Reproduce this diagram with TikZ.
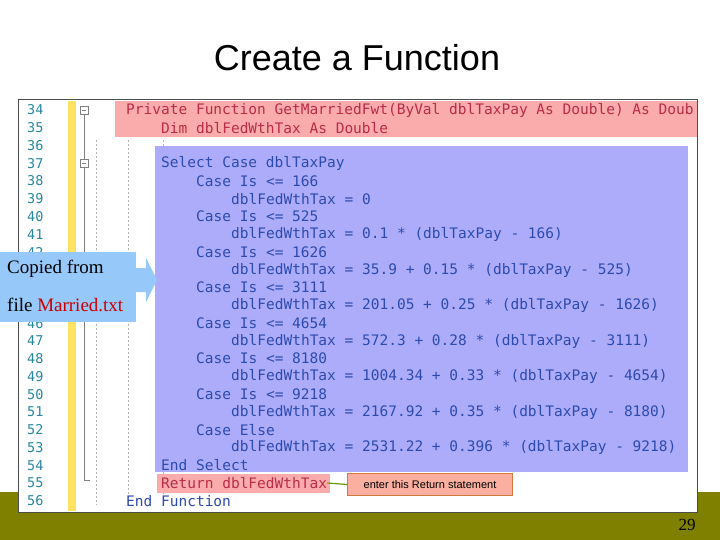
\documentclass[tikz,border=0pt]{standalone}
\usepackage{fontspec}
\setmainfont{Liberation Serif}
\newfontfamily\titlefont{Liberation Sans}
\newfontfamily\codefont{DejaVu Sans Mono}
\definecolor{olive}{RGB}{128,128,0}
\definecolor{kw}{RGB}{45,75,175}
\definecolor{lnum}{RGB}{40,135,160}
\definecolor{redtxt}{RGB}{185,45,70}
\definecolor{redbg}{RGB}{250,172,172}
\definecolor{bluebg}{RGB}{172,172,250}
\definecolor{callblue}{RGB}{150,200,250}
\definecolor{salmon}{RGB}{250,175,160}
\definecolor{orangeb}{RGB}{210,120,60}
\tikzset{
  code/.style={anchor=west,inner sep=0pt,font=\codefont\fontsize{14.5}{14}\selectfont,text=kw},
  num/.style={anchor=west,inner sep=0pt,font=\codefont\fontsize{13.5}{14}\selectfont,text=lnum},
}
\begin{document}
\begin{tikzpicture}[x=1pt,y=-1pt]
\useasboundingbox (0,0) rectangle (720,540);
\fill[olive] (0,492) rectangle (720,540);
\node[font=\titlefont\fontsize{36}{40}\selectfont] (title) at (357,58) {Create a Function};
\node[font=\fontsize{17}{20}\selectfont] (pg) at (687,525) {29};
\draw[fill=white,draw=black!70,line width=1pt] (18,100) rectangle (697,512);
% gutter
\fill[yellow!70!orange!60] (68,101) rectangle (76,511);
\draw[gray] (84,112) -- (84,480) -- (90,480);
\foreach \yy in {110,163}{\draw[gray,fill=white] (80,\yy-4) rectangle (88,\yy+4); \draw[gray] (82,\yy) -- (86,\yy);}
\foreach \xx in {96,128,163}{\draw[gray!60,dash pattern=on 2pt off 2pt] (\xx,140) -- (\xx,505);}
% backgrounds
\fill[redbg] (115,101) rectangle (697,137);
\fill[bluebg] (155,146) rectangle (688,472);
\fill[redbg] (157,474) rectangle (330,493);
% line numbers
\foreach \n [count=\i from 0] in {34,...,42,46,47,48,49,50,51,52,53,54,55,56}{
  \pgfmathsetmacro\yy{110+17.77*(\n-34)}
  \node[num] (n\n) at (27,\yy) {\n};
}
\begin{scope}
\clip (18,100) rectangle (697,512);
\node[code,text=redtxt] (c34) at (126,110) {Private Function GetMarriedFwt(ByVal dblTaxPay As Double) As Doub};
\end{scope}
\node[code,text=redtxt] (c35) at (161,128) {Dim dblFedWthTax As Double};
\node[code] (c37) at (161,163) {Select Case dblTaxPay};
\node[code] (c38) at (196,181) {Case Is <= 166};
\node[code] (c39) at (231,199) {dblFedWthTax = 0};
\node[code] (c40) at (196,216) {Case Is <= 525};
\node[code] (c41) at (231,234) {dblFedWthTax = 0.1 * (dblTaxPay - 166)};
\node[code] (c42) at (196,252) {Case Is <= 1626};
\node[code] (c43) at (231,270) {dblFedWthTax = 35.9 + 0.15 * (dblTaxPay - 525)};
\node[code] (c44) at (196,287) {Case Is <= 3111};
\node[code] (c45) at (231,305) {dblFedWthTax = 201.05 + 0.25 * (dblTaxPay - 1626)};
\node[code] (c46) at (196,323) {Case Is <= 4654};
\node[code] (c47) at (231,341) {dblFedWthTax = 572.3 + 0.28 * (dblTaxPay - 3111)};
\node[code] (c48) at (196,358) {Case Is <= 8180};
\node[code] (c49) at (231,376) {dblFedWthTax = 1004.34 + 0.33 * (dblTaxPay - 4654)};
\node[code] (c50) at (196,394) {Case Is <= 9218};
\node[code] (c51) at (231,412) {dblFedWthTax = 2167.92 + 0.35 * (dblTaxPay - 8180)};
\node[code] (c52) at (196,430) {Case Else};
\node[code] (c53) at (231,447) {dblFedWthTax = 2531.22 + 0.396 * (dblTaxPay - 9218)};
\node[code] (c54) at (161,465) {End Select};
\node[code,text=redtxt] (c55) at (161,483) {Return dblFedWthTax};
\node[code] (c56) at (126,501) {End Function};
% callout
\node[draw=orangeb,line width=1.2pt,fill=salmon,minimum width=165,minimum height=22,inner sep=0pt,
  font=\titlefont\fontsize{11}{12}\selectfont] (note) at (430,484.5) {enter this Return statement};
\draw[olive!80!green,line width=1.2pt] (c55.east) -- (note.west);
% copied from callout
\fill[callblue] (0,252) rectangle (136,322);
\fill[callblue] (136,268) -- (146,268) -- (146,258) -- (157,280) -- (146,302) -- (146,292) -- (136,292) -- cycle;
\node[anchor=west,inner sep=0pt,font=\fontsize{19}{22}\selectfont] (cp1) at (7,269) {Copied from};
\node[anchor=west,inner sep=0pt,font=\fontsize{19}{22}\selectfont] (cp2) at (7,305) {file \textcolor{red!80!black}{Married.txt}};
\end{tikzpicture}
\end{document}
